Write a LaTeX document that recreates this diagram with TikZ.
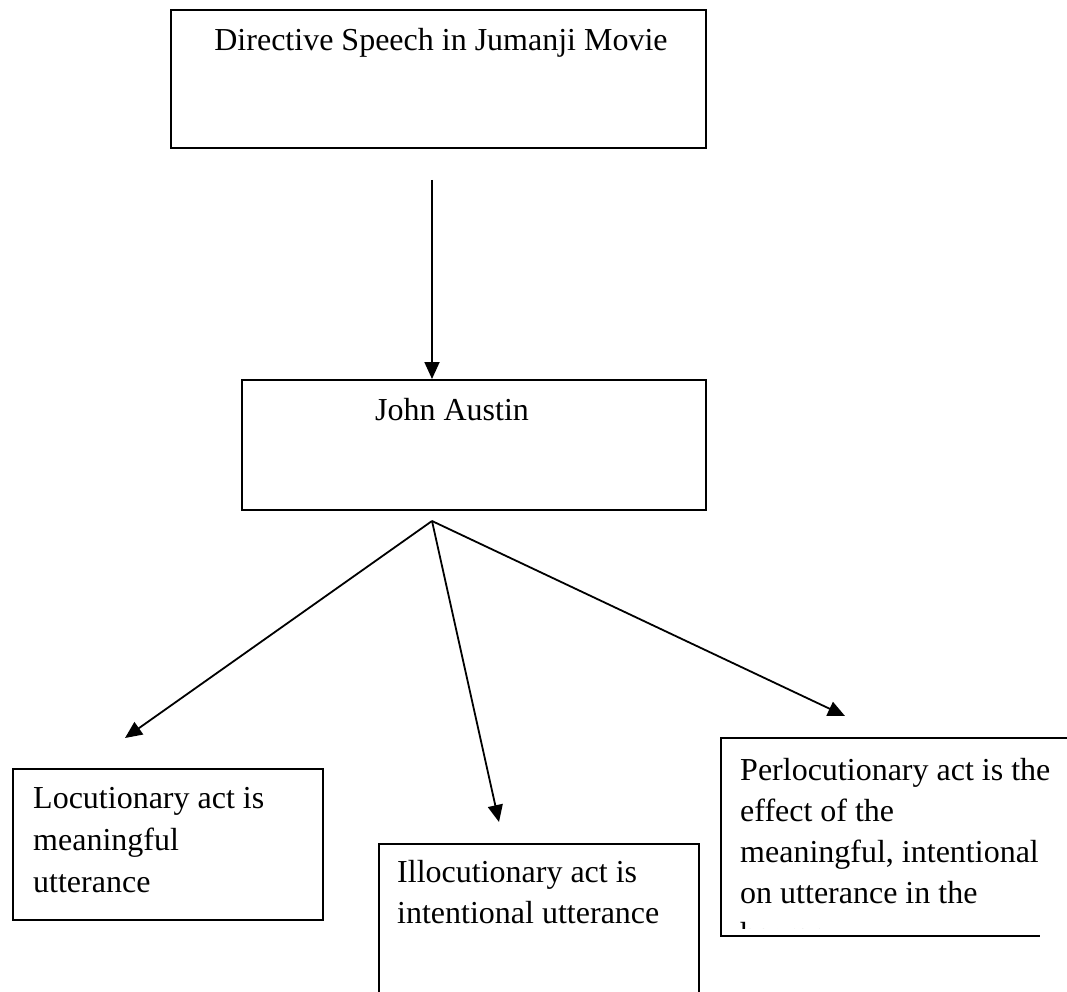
\documentclass[tikz,border=0pt]{standalone}
\usepackage{fontspec}
\setmainfont{Liberation Serif}
\usetikzlibrary{arrows.meta}
\begin{document}
\begin{tikzpicture}[x=1pt,y=-1pt,
  box/.style={draw, line width=1.8pt, inner sep=0pt, anchor=north west},
  lbl/.style={anchor=base west, inner sep=0pt, font=\fontsize{32}{41}\selectfont},
  arr/.style={line width=1.8pt, -{Triangle[length=17pt,width=15pt]}}]
\useasboundingbox (0,0) rectangle (1067,992);
% boxes
\node[box, minimum width=535pt, minimum height=138pt] (topbox) at (170,9) {};
\node[box, minimum width=464pt, minimum height=130pt] (jabox) at (241,379) {};
\node[box, minimum width=310pt, minimum height=151pt] (locbox) at (12,768) {};
\node[box, minimum width=320pt, minimum height=170pt] (illbox) at (378,843) {};
\draw[line width=1.8pt] (1067,738) -- (721,738) -- (721,936) -- (1040,936);
% texts
\node[lbl, anchor=base] (ttop) at (441,51) {Directive Speech in Jumanji Movie};
\node[lbl, anchor=base] (tja) at (452,420) {John Austin};
\node[lbl] (lo1) at (33,808) {Locutionary act is};
\node[lbl] (lo2) at (33,850) {meaningful};
\node[lbl] (lo3) at (33,892) {utterance};
\node[lbl] (il1) at (397,882) {Illocutionary act is};
\node[lbl] (il2) at (397,923) {intentional utterance};
\node[lbl] (pe1) at (740,780) {Perlocutionary act is the};
\node[lbl] (pe2) at (740,821) {effect of the};
\node[lbl] (pe3) at (740,862) {meaningful, intentional};
\node[lbl] (pe4) at (740,903) {on utterance in the};
\begin{scope}
\clip (721,738) rectangle (1067,928);
\node[lbl] (pe5) at (740,944) {hearer};
\end{scope}
% connectors
\coordinate (vstart) at (432,180);
\coordinate (apex) at (432,521);
\coordinate (tipL) at (125,738);
\coordinate (tipM) at (499,822);
\coordinate (tipR) at (845,716);
\draw[arr] (vstart) -- (vstart |- jabox.north);
\draw[arr] (apex) -- (tipL);
\draw[arr] (apex) -- (tipM);
\draw[arr] (apex) -- (tipR);
\end{tikzpicture}
\end{document}
